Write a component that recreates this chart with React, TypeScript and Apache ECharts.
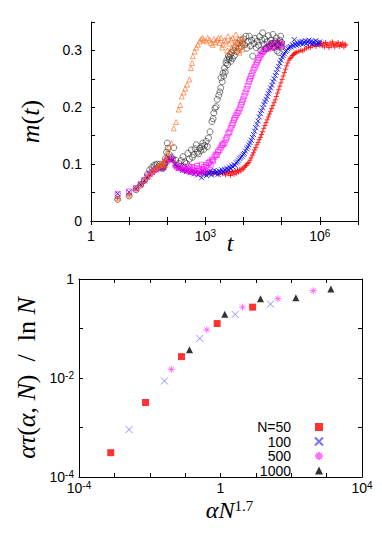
import React, { useEffect, useRef } from 'react';
import * as echarts from 'echarts';

// ---- Top panel: m(t) vs t, stored as [log10 t, m] ----
const orangeLogTM: [number, number][] = [
  [0.70, 0.040], [1.00, 0.046], [1.18, 0.056], [1.30, 0.064], [1.40, 0.072], [1.48, 0.078], [1.54, 0.083],
  [1.60, 0.087], [1.65, 0.090], [1.70, 0.093], [1.74, 0.095], [1.78, 0.097], [1.81, 0.099], [1.85, 0.101],
  [1.88, 0.100], [1.90, 0.104], [1.93, 0.098], [1.95, 0.110], [1.98, 0.106], [2.00, 0.122], [2.02, 0.115],
  [2.05, 0.130], [2.11, 0.137], [2.17, 0.163], [2.23, 0.174], [2.30, 0.196], [2.34, 0.204], [2.38, 0.219],
  [2.43, 0.226], [2.47, 0.233], [2.52, 0.240], [2.58, 0.249], [2.62, 0.269], [2.65, 0.278], [2.67, 0.290],
  [2.72, 0.298], [2.76, 0.305], [2.80, 0.310], [2.85, 0.316], [2.89, 0.320], [2.92, 0.322], [2.96, 0.318],
  [3.02, 0.316], [3.06, 0.322], [3.11, 0.319], [3.15, 0.313], [3.19, 0.310], [3.22, 0.320], [3.26, 0.315],
  [3.30, 0.318], [3.34, 0.322], [3.37, 0.313], [3.41, 0.322], [3.44, 0.305], [3.46, 0.310], [3.50, 0.318],
  [3.54, 0.316], [3.57, 0.300], [3.59, 0.325], [3.62, 0.312], [3.64, 0.296], [3.67, 0.319], [3.69, 0.305],
  [3.71, 0.322], [3.73, 0.300], [3.76, 0.310], [3.78, 0.316], [3.80, 0.328], [3.82, 0.305], [3.84, 0.312],
  [3.86, 0.320], [3.88, 0.300], [3.89, 0.296], [3.91, 0.315], [3.93, 0.308], [3.95, 0.322], [3.97, 0.302],
  [3.99, 0.318], [4.01, 0.310],
];

const blackLogTM: [number, number][] = [
  [0.70, 0.038], [1.00, 0.044], [1.18, 0.055], [1.30, 0.063], [1.40, 0.071], [1.48, 0.082], [1.54, 0.090],
  [1.60, 0.094], [1.65, 0.098], [1.70, 0.099], [1.74, 0.100], [1.78, 0.096], [1.81, 0.100], [1.85, 0.097],
  [1.88, 0.092], [1.90, 0.095], [1.93, 0.102], [1.95, 0.110], [1.98, 0.121], [2.00, 0.137], [2.02, 0.128],
  [2.05, 0.117], [2.11, 0.112], [2.17, 0.129], [2.22, 0.107], [2.30, 0.101], [2.36, 0.106], [2.41, 0.113],
  [2.46, 0.104], [2.50, 0.101], [2.54, 0.119], [2.58, 0.109], [2.63, 0.125], [2.66, 0.112], [2.70, 0.117],
  [2.73, 0.127], [2.76, 0.134], [2.79, 0.121], [2.82, 0.118], [2.85, 0.128], [2.88, 0.124], [2.91, 0.131],
  [2.93, 0.137], [2.96, 0.126], [2.98, 0.133], [3.02, 0.140], [3.05, 0.131], [3.08, 0.146], [3.12, 0.157],
  [3.17, 0.175], [3.20, 0.180], [3.22, 0.190], [3.25, 0.198], [3.28, 0.201], [3.31, 0.214], [3.35, 0.221],
  [3.38, 0.227], [3.40, 0.234], [3.41, 0.252], [3.44, 0.245], [3.46, 0.260], [3.48, 0.255], [3.50, 0.269],
  [3.52, 0.262], [3.54, 0.278], [3.56, 0.283], [3.58, 0.275], [3.60, 0.290], [3.62, 0.284], [3.63, 0.288],
  [3.65, 0.293], [3.67, 0.281], [3.69, 0.296], [3.71, 0.286], [3.73, 0.300], [3.76, 0.291], [3.79, 0.305],
  [3.82, 0.298], [3.85, 0.312], [3.88, 0.304], [3.91, 0.318], [3.94, 0.307], [3.97, 0.313], [4.00, 0.320],
  [4.03, 0.310], [4.06, 0.325], [4.09, 0.304], [4.12, 0.316], [4.15, 0.325], [4.18, 0.308], [4.21, 0.318],
  [4.24, 0.290], [4.27, 0.312], [4.30, 0.321], [4.33, 0.305], [4.36, 0.316], [4.39, 0.309], [4.42, 0.324],
  [4.45, 0.300], [4.48, 0.318], [4.50, 0.331], [4.53, 0.311], [4.56, 0.320], [4.59, 0.303], [4.62, 0.315],
  [4.65, 0.326], [4.68, 0.307], [4.71, 0.318], [4.74, 0.312], [4.77, 0.328], [4.80, 0.305], [4.83, 0.316],
  [4.86, 0.322], [4.88, 0.299], [4.90, 0.310], [4.93, 0.296], [4.95, 0.318], [4.97, 0.325], [4.99, 0.306],
  [5.00, 0.314],
];

const magentaLogTM: [number, number][] = [
  [0.70, 0.047], [1.00, 0.052], [1.18, 0.058], [1.30, 0.065], [1.40, 0.072], [1.48, 0.078], [1.54, 0.083],
  [1.60, 0.086], [1.65, 0.089], [1.70, 0.091], [1.74, 0.093], [1.78, 0.094], [1.81, 0.093], [1.85, 0.095],
  [1.88, 0.094], [1.90, 0.096], [1.93, 0.100], [1.95, 0.103], [1.98, 0.106], [2.00, 0.108], [2.05, 0.110],
  [2.10, 0.110], [2.15, 0.108], [2.22, 0.098], [2.26, 0.095], [2.30, 0.093], [2.34, 0.097], [2.38, 0.092],
  [2.42, 0.096], [2.46, 0.090], [2.50, 0.094], [2.54, 0.088], [2.57, 0.096], [2.60, 0.091], [2.63, 0.086],
  [2.66, 0.095], [2.69, 0.089], [2.72, 0.093], [2.75, 0.084], [2.78, 0.097], [2.81, 0.088], [2.84, 0.092],
  [2.87, 0.085], [2.90, 0.099], [2.93, 0.091], [2.96, 0.095], [2.99, 0.088], [3.02, 0.098], [3.05, 0.093],
  [3.08, 0.102], [3.11, 0.104], [3.14, 0.099], [3.17, 0.108], [3.20, 0.106], [3.24, 0.113], [3.27, 0.117],
  [3.30, 0.116], [3.33, 0.122], [3.37, 0.125], [3.40, 0.129], [3.43, 0.133], [3.46, 0.135], [3.50, 0.137],
  [3.53, 0.143], [3.56, 0.147], [3.60, 0.154], [3.63, 0.157], [3.66, 0.163], [3.69, 0.168], [3.72, 0.172],
  [3.75, 0.178], [3.78, 0.182], [3.81, 0.186], [3.84, 0.190], [3.87, 0.193], [3.90, 0.198], [3.93, 0.204],
  [3.96, 0.209], [3.99, 0.214], [4.02, 0.220], [4.05, 0.226], [4.08, 0.232], [4.11, 0.238], [4.14, 0.245],
  [4.17, 0.250], [4.20, 0.255], [4.23, 0.260], [4.26, 0.266], [4.29, 0.270], [4.32, 0.275], [4.35, 0.279],
  [4.38, 0.283], [4.41, 0.287], [4.44, 0.291], [4.47, 0.294], [4.50, 0.297], [4.53, 0.299], [4.56, 0.302],
  [4.59, 0.304], [4.62, 0.306], [4.65, 0.303], [4.68, 0.309], [4.71, 0.305], [4.73, 0.311], [4.75, 0.307],
  [4.77, 0.313], [4.79, 0.308], [4.81, 0.312], [4.83, 0.306], [4.85, 0.314], [4.87, 0.309], [4.89, 0.311],
  [4.91, 0.307], [4.93, 0.313], [4.95, 0.310], [4.97, 0.308], [4.99, 0.312], [5.00, 0.309],
];

const blueLogTM: [number, number][] = [
  [0.70, 0.048], [1.00, 0.051], [1.18, 0.057], [1.30, 0.064], [1.40, 0.071], [1.48, 0.077], [1.54, 0.082],
  [1.60, 0.086], [1.65, 0.089], [1.70, 0.090], [1.74, 0.092], [1.78, 0.093], [1.81, 0.094], [1.85, 0.093],
  [1.88, 0.094], [1.90, 0.095], [1.93, 0.098], [1.95, 0.101], [1.98, 0.104], [2.00, 0.107], [2.05, 0.109],
  [2.10, 0.110], [2.15, 0.107], [2.20, 0.099], [2.25, 0.096], [2.30, 0.092], [2.35, 0.094], [2.40, 0.089],
  [2.45, 0.091], [2.50, 0.087], [2.55, 0.090], [2.60, 0.085], [2.65, 0.088], [2.70, 0.083], [2.75, 0.086],
  [2.80, 0.081], [2.85, 0.084], [2.90, 0.076], [2.93, 0.087], [2.96, 0.082], [3.00, 0.085], [3.03, 0.080],
  [3.06, 0.086], [3.10, 0.083], [3.13, 0.088], [3.16, 0.081], [3.20, 0.085], [3.23, 0.089], [3.26, 0.084],
  [3.30, 0.087], [3.33, 0.082], [3.36, 0.088], [3.40, 0.085], [3.43, 0.090], [3.46, 0.086], [3.50, 0.091],
  [3.53, 0.088], [3.56, 0.093], [3.60, 0.090], [3.63, 0.095], [3.66, 0.092], [3.69, 0.097], [3.72, 0.095],
  [3.75, 0.099], [3.78, 0.098], [3.81, 0.102], [3.84, 0.104], [3.87, 0.107], [3.90, 0.110], [3.93, 0.112],
  [3.96, 0.114], [3.99, 0.117], [4.02, 0.119], [4.05, 0.123], [4.08, 0.127], [4.11, 0.130], [4.14, 0.134],
  [4.17, 0.138], [4.20, 0.142], [4.23, 0.147], [4.26, 0.152], [4.29, 0.158], [4.32, 0.164], [4.35, 0.170],
  [4.38, 0.176], [4.41, 0.183], [4.44, 0.189], [4.47, 0.194], [4.50, 0.199], [4.53, 0.205], [4.56, 0.210],
  [4.59, 0.214], [4.62, 0.219], [4.65, 0.224], [4.68, 0.229], [4.71, 0.234], [4.74, 0.239], [4.77, 0.245],
  [4.80, 0.250], [4.83, 0.256], [4.86, 0.261], [4.89, 0.267], [4.92, 0.272], [4.95, 0.278], [4.98, 0.283],
  [5.01, 0.288], [5.04, 0.291], [5.07, 0.294], [5.10, 0.298], [5.13, 0.300], [5.16, 0.303], [5.19, 0.305],
  [5.22, 0.307], [5.25, 0.306], [5.28, 0.310], [5.31, 0.308], [5.33, 0.319], [5.35, 0.311], [5.38, 0.309],
  [5.41, 0.313], [5.44, 0.310], [5.47, 0.315], [5.50, 0.312], [5.53, 0.316], [5.56, 0.311], [5.59, 0.314],
  [5.62, 0.317], [5.65, 0.312], [5.68, 0.315], [5.71, 0.318], [5.74, 0.313], [5.77, 0.316], [5.80, 0.311],
  [5.83, 0.315], [5.86, 0.313], [5.89, 0.317], [5.92, 0.311], [5.95, 0.314], [5.98, 0.312], [6.00, 0.315],
];

const redLogTM: [number, number][] = [
  [0.70, 0.040], [1.00, 0.046], [1.18, 0.057], [1.30, 0.064], [1.40, 0.070], [1.48, 0.076], [1.54, 0.081],
  [1.60, 0.085], [1.65, 0.088], [1.70, 0.090], [1.74, 0.092], [1.78, 0.093], [1.81, 0.094], [1.85, 0.095],
  [1.88, 0.094], [1.90, 0.096], [1.93, 0.099], [1.95, 0.102], [1.98, 0.104], [2.00, 0.106], [2.05, 0.108],
  [2.10, 0.109], [2.15, 0.106], [2.20, 0.098], [2.25, 0.095], [2.30, 0.093], [2.35, 0.092], [2.40, 0.090],
  [2.45, 0.089], [2.50, 0.088], [2.55, 0.090], [2.60, 0.086], [2.65, 0.087], [2.70, 0.085], [2.75, 0.088],
  [2.80, 0.083], [2.85, 0.086], [2.90, 0.084], [2.95, 0.087], [3.00, 0.082], [3.05, 0.086], [3.10, 0.084],
  [3.15, 0.087], [3.20, 0.083], [3.25, 0.086], [3.30, 0.084], [3.35, 0.082], [3.40, 0.086], [3.45, 0.083],
  [3.50, 0.085], [3.53, 0.081], [3.56, 0.086], [3.60, 0.083], [3.63, 0.087], [3.66, 0.080], [3.69, 0.085],
  [3.72, 0.087], [3.75, 0.082], [3.78, 0.088], [3.81, 0.084], [3.84, 0.089], [3.87, 0.086], [3.90, 0.091],
  [3.93, 0.088], [3.96, 0.093], [3.99, 0.091], [4.02, 0.095], [4.05, 0.097], [4.08, 0.098], [4.11, 0.101],
  [4.14, 0.103], [4.17, 0.107], [4.20, 0.111], [4.23, 0.116], [4.26, 0.120], [4.29, 0.125], [4.32, 0.129],
  [4.35, 0.134], [4.38, 0.138], [4.41, 0.143], [4.44, 0.147], [4.47, 0.152], [4.50, 0.157], [4.53, 0.163],
  [4.56, 0.168], [4.59, 0.173], [4.62, 0.178], [4.65, 0.183], [4.68, 0.188], [4.71, 0.193], [4.74, 0.198],
  [4.77, 0.203], [4.80, 0.208], [4.83, 0.213], [4.86, 0.219], [4.89, 0.225], [4.92, 0.231], [4.95, 0.237],
  [4.98, 0.243], [5.01, 0.249], [5.04, 0.255], [5.07, 0.261], [5.10, 0.267], [5.13, 0.273], [5.16, 0.278],
  [5.19, 0.283], [5.22, 0.286], [5.25, 0.288], [5.28, 0.291], [5.31, 0.293], [5.34, 0.295], [5.37, 0.296],
  [5.40, 0.297], [5.45, 0.298], [5.50, 0.300], [5.55, 0.299], [5.60, 0.302], [5.65, 0.304], [5.70, 0.306],
  [5.75, 0.305], [5.80, 0.308], [5.85, 0.310], [5.90, 0.307], [5.95, 0.311], [6.00, 0.309], [6.03, 0.313],
  [6.06, 0.308], [6.09, 0.312], [6.12, 0.306], [6.15, 0.314], [6.18, 0.309], [6.21, 0.311], [6.24, 0.305],
  [6.27, 0.313], [6.30, 0.308], [6.33, 0.315], [6.36, 0.310], [6.39, 0.306], [6.42, 0.312], [6.45, 0.309],
  [6.48, 0.314], [6.51, 0.307], [6.54, 0.311], [6.57, 0.309], [6.60, 0.313], [6.63, 0.306], [6.66, 0.311],
  [6.68, 0.309],
];

// ---- Bottom panel: [alpha N^1.7, alpha tau / ln N] ----
const legendNames = ['N=50', '100', '500', '1000'];
const n50: [number, number][] = [[7.9e-4, 3.1e-4], [7.6e-3, 3.2e-3], [0.079, 0.027], [0.805, 0.126], [8.1, 0.27]];
const n100: [number, number][] = [[2.6e-3, 9.1e-4], [0.026, 8.7e-3], [0.26, 0.063], [2.6, 0.193], [26, 0.31]];
const n500: [number, number][] = [[0.041, 0.015], [0.41, 0.094], [4.2, 0.27], [42, 0.40], [420, 0.58]];
const n1000: [number, number][] = [[0.133, 0.037], [1.32, 0.195], [13.5, 0.40], [135, 0.42], [1320, 0.63]];

const SANS = 'Liberation Sans';
const SERIF = 'Liberation Serif';
const CROSS = 'path://M0,0L10,10M10,0L0,10';
const PLUS = 'path://M5,0L5,10M0,5L10,5';
const STAR = 'path://M5,0L5,10M0,5L10,5M1.5,1.5L8.5,8.5M8.5,1.5L1.5,8.5';

const supRich = {
  b: { fontSize: 14, fontFamily: SANS, color: '#000', lineHeight: 16 },
  s: { fontSize: 10, fontFamily: SANS, color: '#000', verticalAlign: 'top' as const, lineHeight: 8 },
};
const powLabel = (e: number) => (e === 0 ? '{b|1}' : `{b|10}{s|${e}}`);
const exp10 = (v: number) => Math.round(Math.log10(v));

const frameLine = { show: true, lineStyle: { color: '#000', width: 1 } };
const tickIn = { show: true, inside: true, length: 4, lineStyle: { color: '#000', width: 1 } };

export default function App() {
  const ref = useRef<HTMLDivElement>(null);
  useEffect(() => {
    if (!ref.current) return;
    const chart = echarts.init(ref.current, undefined, { renderer: 'svg' });
    const toT = (arr: [number, number][]) => arr.map(([lt, m]) => [Math.pow(10, lt), m]);
    const hollow = (color: string, w = 0.8) => ({ color: 'transparent', borderColor: color, borderWidth: w });

    const option: any = {
      animation: false,
      backgroundColor: '#fff',
      grid: [
        { left: 91, top: 22, width: 267, height: 199 },
        { left: 79, top: 279, width: 283, height: 198 },
      ],
      xAxis: [
        {
          type: 'log', gridIndex: 0, min: 1, max: 1e7, logBase: 10, interval: 1, splitNumber: 7,
          axisLine: frameLine, axisTick: tickIn, splitLine: { show: false },
          axisLabel: {
            margin: 7, formatter: (v: number) => { const e = exp10(v); return e % 3 === 0 && e < 7 ? powLabel(e) : ''; },
            rich: supRich,
          },
          name: 't', nameLocation: 'middle', nameGap: 10, nameMoveOverlap: false,
          nameTextStyle: { fontFamily: SERIF, fontStyle: 'italic', fontSize: 24, color: '#000', padding: [0, 0, 0, 11] },
        },
        {
          type: 'log', gridIndex: 0, position: 'top', min: 1, max: 1e7, logBase: 10, interval: 1, splitNumber: 7,
          axisLine: frameLine, axisTick: tickIn, axisLabel: { show: false }, splitLine: { show: false },
        },
        {
          type: 'log', gridIndex: 1, min: 1e-4, max: 1e4, logBase: 10, interval: 1, splitNumber: 8,
          axisLine: frameLine, axisTick: tickIn, splitLine: { show: false },
          axisLabel: {
            margin: 3, formatter: (v: number) => { const e = exp10(v); return e % 4 === 0 ? powLabel(e) : ''; },
            rich: supRich,
          },
          name: '{i|αN}{s|1.7}', nameLocation: 'middle', nameGap: 21, nameMoveOverlap: false,
          nameTextStyle: {
            color: '#000', padding: [0, 0, 0, 18],
            rich: {
              i: { fontFamily: SERIF, fontStyle: 'italic', fontSize: 24, color: '#000', lineHeight: 24 },
              s: { fontFamily: SERIF, fontSize: 15, color: '#000', verticalAlign: 'top', lineHeight: 14 },
            },
          },
        },
        {
          type: 'log', gridIndex: 1, position: 'top', min: 1e-4, max: 1e4, logBase: 10, interval: 1, splitNumber: 8,
          axisLine: frameLine, axisTick: tickIn, axisLabel: { show: false }, splitLine: { show: false },
        },
      ],
      yAxis: [
        {
          type: 'value', gridIndex: 0, min: 0, max: 0.35, interval: 0.05,
          axisLine: frameLine, axisTick: tickIn, splitLine: { show: false },
          axisLabel: {
            margin: 9, fontFamily: SANS, fontSize: 14, color: '#000',
            formatter: (v: number) => {
              const k = Math.round(v * 100);
              if (k % 10 !== 0) return '';
              return k === 0 ? '0' : (k / 100).toFixed(1);
            },
          },
          name: '{i|m}{r|(}{i|t}{r|)}', nameLocation: 'middle', nameGap: 48, nameMoveOverlap: false,
          nameTextStyle: {
            color: '#000',
            rich: {
              i: { fontFamily: SERIF, fontStyle: 'italic', fontSize: 26, color: '#000' },
              r: { fontFamily: SERIF, fontSize: 26, color: '#000' },
            },
          },
        },
        {
          type: 'value', gridIndex: 0, position: 'right', min: 0, max: 0.35, interval: 0.05,
          axisLine: frameLine, axisTick: tickIn, axisLabel: { show: false }, splitLine: { show: false },
        },
        {
          type: 'log', gridIndex: 1, min: 1e-4, max: 1, logBase: 10, interval: 1, splitNumber: 4,
          axisLine: frameLine, axisTick: tickIn, splitLine: { show: false },
          axisLabel: {
            margin: 5, formatter: (v: number) => { const e = exp10(v); return e % 2 === 0 ? powLabel(e) : ''; },
            rich: supRich,
          },
          name: '{i|ατ}{r|(}{i|α}{r|, }{i|N}{r|)  /  ln }{i|N}', nameLocation: 'middle', nameGap: 40, nameMoveOverlap: false,
          nameTextStyle: {
            color: '#000',
            rich: {
              i: { fontFamily: SERIF, fontStyle: 'italic', fontSize: 26, color: '#000' },
              r: { fontFamily: SERIF, fontSize: 26, color: '#000' },
            },
          },
        },
        {
          type: 'log', gridIndex: 1, position: 'right', min: 1e-4, max: 1, logBase: 10, interval: 1, splitNumber: 4,
          axisLine: frameLine, axisTick: tickIn, axisLabel: { show: false }, splitLine: { show: false },
        },
      ],
      legend: {
        data: legendNames,
        orient: 'vertical',
        align: 'right',
        right: 53,
        top: 415,
        itemWidth: 8,
        itemHeight: 8,
        itemGap: 0.5,
        textStyle: { fontFamily: SANS, fontSize: 14, color: '#000', lineHeight: 14, padding: [0, 19, 0, 0] },
        selectedMode: false,
      },
      series: [
        { type: 'scatter', name: 'red', xAxisIndex: 0, yAxisIndex: 0, data: toT(redLogTM), symbol: PLUS, symbolSize: 5, itemStyle: hollow('#ff0000', 1) },
        { type: 'scatter', name: 'blue', xAxisIndex: 0, yAxisIndex: 0, data: toT(blueLogTM), symbol: CROSS, symbolSize: 5, itemStyle: hollow('#0000ff', 1) },
        { type: 'scatter', name: 'magenta', xAxisIndex: 0, yAxisIndex: 0, data: toT(magentaLogTM), symbol: 'rect', symbolSize: 5, itemStyle: hollow('#ff00ff') },
        { type: 'scatter', name: 'black', xAxisIndex: 0, yAxisIndex: 0, data: toT(blackLogTM), symbol: 'circle', symbolSize: 6, itemStyle: hollow('#333333') },
        { type: 'scatter', name: 'orange', xAxisIndex: 0, yAxisIndex: 0, data: toT(orangeLogTM), symbol: 'triangle', symbolSize: 5, itemStyle: hollow('#ff6a20') },

        { type: 'scatter', name: legendNames[0], xAxisIndex: 2, yAxisIndex: 2, data: n50, symbol: 'rect', symbolSize: 7, itemStyle: { color: '#ff0000' } },
        { type: 'scatter', name: legendNames[1], xAxisIndex: 2, yAxisIndex: 2, data: n100, symbol: CROSS, symbolSize: 7, itemStyle: hollow('#5050ff', 0.8) },
        { type: 'scatter', name: legendNames[2], xAxisIndex: 2, yAxisIndex: 2, data: n500, symbol: STAR, symbolSize: 7, itemStyle: hollow('#ff50ff', 1) },
        { type: 'scatter', name: legendNames[3], xAxisIndex: 2, yAxisIndex: 2, data: n1000, symbol: 'triangle', symbolSize: 7, itemStyle: { color: '#000' } },
      ],
    };
    chart.setOption(option);
    return () => chart.dispose();
  }, []);
  return <div ref={ref} style={{ position: 'absolute', left: 0, top: 0, width: 382, height: 535 }} />;
}
